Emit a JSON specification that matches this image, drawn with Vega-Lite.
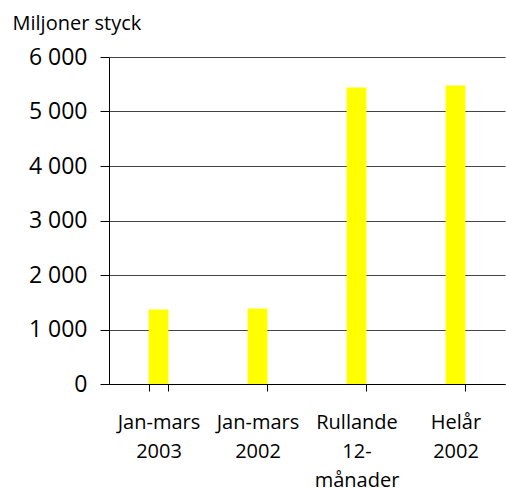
{
  "$schema": "https://vega.github.io/schema/vega-lite/v6.json",
  "autosize": {"type": "none"},
  "padding": {"left": 109, "top": 57, "right": 1, "bottom": 104},
  "width": 396,
  "height": 327,
  "background": "white",
  "config": {
    "view": {"stroke": null},
    "font": "Open Sans"
  },
  "data": {
    "values": [
      {"period": "Jan-mars 2003", "value": 1367},
      {"period": "Jan-mars 2002", "value": 1385},
      {"period": "Rullande 12-månader", "value": 5440},
      {"period": "Helår 2002", "value": 5477}
    ]
  },
  "mark": {"type": "bar", "color": "#FFFF00"},
  "encoding": {
    "x": {
      "field": "period",
      "type": "nominal",
      "sort": null,
      "scale": {"paddingInner": 0.8, "paddingOuter": 0.4},
      "axis": {
        "title": null,
        "labelAngle": 0,
        "labelExpr": "datum.value ? split(replace(datum.value, '12-', '12- '), ' ') : ''",
        "labelFont": "Open Sans",
        "labelFontSize": 20,
        "labelLineHeight": 29,
        "labelColor": "#000000",
        "labelBaseline": "alphabetic",
        "labelPadding": 37,
        "tickBand": "extent",
        "tickSize": 7,
        "tickColor": "#000000",
        "domainColor": "#000000",
        "grid": false
      }
    },
    "y": {
      "field": "value",
      "type": "quantitative",
      "scale": {"domain": [0, 6000], "nice": false},
      "axis": {
        "title": "Miljoner styck",
        "titleAngle": 0,
        "titleAlign": "left",
        "titleBaseline": "alphabetic",
        "titleX": -97,
        "titleY": -28,
        "titleFont": "Open Sans",
        "titleFontSize": 20,
        "titleFontWeight": "normal",
        "titleColor": "#000000",
        "values": [0, 1000, 2000, 3000, 4000, 5000, 6000],
        "labelExpr": "replace(format(datum.value, ','), ',', ' ')",
        "labelFont": "Open Sans",
        "labelFontSize": 23,
        "labelColor": "#000000",
        "labelPadding": 13,
        "tickSize": 9,
        "tickColor": "#000000",
        "domainColor": "#000000",
        "grid": true,
        "gridColor": "#444444",
        "gridWidth": 1,
        "gridOpacity": 1
      }
    }
  }
}
